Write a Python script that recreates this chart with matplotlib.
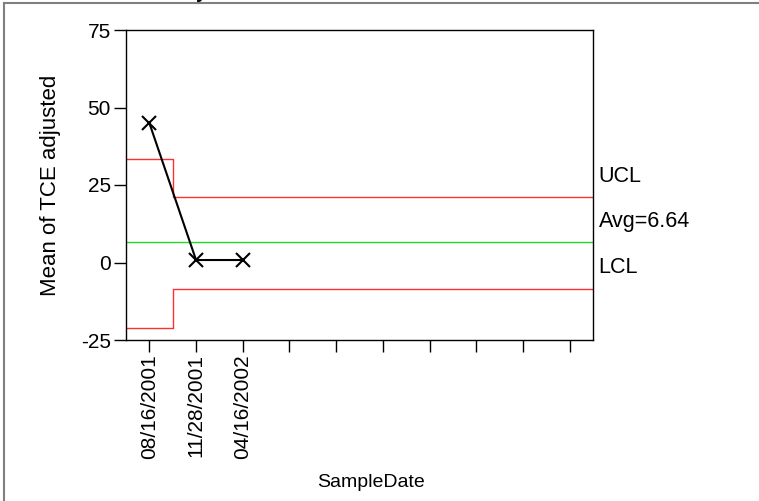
import matplotlib
matplotlib.use("Agg")
import matplotlib.pyplot as plt
from matplotlib.lines import Line2D

plt.rcParams['font.family'] = ['Liberation Sans', 'DejaVu Sans']
plt.rcParams['axes.unicode_minus'] = False

# Data
sample_dates = ["08/16/2001", "11/28/2001", "04/16/2002"]
means = [45.0, 0.8, 0.8]
n_slots = 10
avg = 6.64
ucl_values = [33.3, 21.2]
lcl_values = [-21.2, -8.4]
ucl_breaks = [0.5, 1.5, 10.5]

fig = plt.figure(figsize=(7.59, 5.01), dpi=100)
ax = fig.add_axes([126/759, 1 - 340/501, (593-126)/759, (340-30)/501])

# control limits (step)
ax.plot([ucl_breaks[0], ucl_breaks[1], ucl_breaks[1], ucl_breaks[2]],
        [ucl_values[0], ucl_values[0], ucl_values[1], ucl_values[1]],
        color='#ff3030', lw=1)
ax.plot([ucl_breaks[0], ucl_breaks[1], ucl_breaks[1], ucl_breaks[2]],
        [lcl_values[0], lcl_values[0], lcl_values[1], lcl_values[1]],
        color='#ff3030', lw=1)
ax.axhline(avg, color='#20dd20', lw=1)

xs = list(range(1, len(means) + 1))
ax.plot(xs, means, color='black', lw=1.5, marker='x', markersize=10, mew=1.5)

ax.set_xlim(0.5, n_slots + 0.5)
ax.set_ylim(-25, 75)
ax.set_yticks([-25, 0, 25, 50, 75])
ax.set_xticks(range(1, n_slots + 1))
ax.set_xticklabels(sample_dates + [""] * (n_slots - len(sample_dates)), rotation=90, fontsize=15)
ax.tick_params(axis='y', direction='out', length=9, width=1, labelsize=15, pad=2)
ax.tick_params(axis='x', direction='out', length=8.6, width=1, pad=1.5)
ax.set_ylabel("Mean of TCE adjusted", fontsize=16, labelpad=14)
ax.set_xlabel("SampleDate", fontsize=14, labelpad=11)
ax.xaxis.label.set_x((371 - 126) / 467)
for s in ax.spines.values():
    s.set_linewidth(1)

# right labels
for txt, val in [("UCL", ucl_values[-1]), ("Avg=6.64", avg), ("LCL", lcl_values[-1])]:
    ax.annotate(txt, xy=(1.0, val), xycoords=('axes fraction', 'data'),
                xytext=(4, 14.8), textcoords='offset points',
                ha='left', va='center', fontsize=15.5, annotation_clip=False)

# panel border and clipped title
fig.add_artist(Line2D([4/759, 1], [1 - 3/501, 1 - 3/501], color='#808080', lw=1.5,
                      transform=fig.transFigure))
fig.add_artist(Line2D([4/759, 4/759], [0, 1 - 3/501], color='#808080', lw=1.5,
                      transform=fig.transFigure))
fig.text(201/759, 1 + 6/501, "y", fontsize=14, fontweight='bold', ha='center', va='center')

fig.savefig("out.png", dpi=100)
